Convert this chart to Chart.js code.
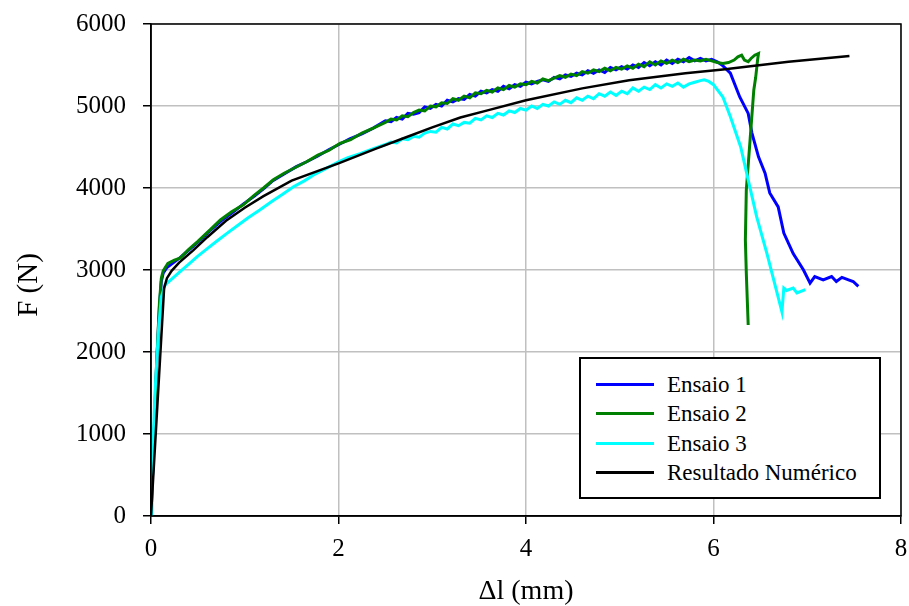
<!DOCTYPE html>
<html lang="pt">
<head>
<meta charset="UTF-8">
<title>F x Δl - Ensaios e Resultado Numérico</title>
<script src="https://cdn.jsdelivr.net/npm/chart.js"></script>
<style>
body {
margin: 0;
background: #ffffff;
font-family: 'Liberation Serif', 'Times New Roman', serif;
}
.wrap {
position: relative;
width: 909px;
height: 606px;
}
.legend {
position: absolute;
left: 579px;
top: 357px;
width: 298px;
height: 138px;
border: 2px solid #000;
background: #fff;
}
.legend .row {
position: absolute;
left: 0;
height: 28px;
width: 100%;
}
.legend .swatch {
position: absolute;
left: 15px;
top: 12px;
width: 58px;
height: 3px;
}
.legend .label {
position: absolute;
left: 86px;
top: 0;
line-height: 28px;
font-size: 23px;
color: #000;
white-space: nowrap;
}
</style>
</head>
<body>
<div class="wrap">
<canvas id="chart"></canvas>
<div class="legend" id="legend"></div>
</div>

<script>
// abscissas comuns da zona de plateau (2.5 a 6.04 mm)
const plateauX = [2.5, 2.56, 2.62, 2.68, 2.74, 2.8, 2.86, 2.92, 2.98, 3.04, 3.1, 3.16, 3.22, 3.28, 3.34, 3.4, 3.46, 3.52, 3.58, 3.64, 3.7, 3.76, 3.82, 3.88, 3.94, 4.0, 4.06, 4.12, 4.18, 4.24, 4.3, 4.36, 4.42, 4.48, 4.54, 4.6, 4.66, 4.72, 4.78, 4.84, 4.9, 4.96, 5.02, 5.08, 5.14, 5.2, 5.26, 5.32, 5.38, 5.44, 5.5, 5.56, 5.62, 5.68, 5.74, 5.8, 5.86, 5.92, 5.98, 6.04];

// Ensaio 1 (azul)
const e1X = [0, 0.03, 0.06, 0.09, 0.11, 0.13, 0.17, 0.24, 0.31, 0.4, 0.5, 0.63, 0.75, 0.87, 0.98, 1.1, 1.2, 1.3, 1.42, 1.55, 1.66, 1.78, 1.9, 2.02, 2.12, 2.25, 2.37]
.concat(plateauX, [6.09, 6.18, 6.28, 6.37, 6.41, 6.48, 6.55, 6.6, 6.69, 6.75, 6.85, 6.96, 7.03, 7.08, 7.17, 7.26, 7.31, 7.37, 7.44, 7.49, 7.545]);
const e1Y = [0, 900, 1850, 2550, 2860, 2960, 3030, 3090, 3150, 3240, 3340, 3480, 3600, 3700, 3800, 3900, 3990, 4090, 4170, 4260, 4320, 4390, 4470, 4540, 4600, 4660, 4730,
4820, 4810, 4860, 4840, 4910, 4900, 4920, 4990, 4970, 5020, 5000, 5070, 5050, 5090, 5080, 5140, 5120, 5180, 5160, 5200,
5180, 5240, 5210, 5260, 5240, 5290, 5270, 5300, 5320, 5300, 5350, 5330, 5380, 5360, 5400, 5380, 5430, 5400, 5440, 5410,
5470, 5440, 5480, 5450, 5500, 5470, 5530, 5490, 5540, 5500, 5560, 5520, 5570, 5540, 5590, 5550, 5580, 5550, 5570, 5540,
5500, 5400, 5110, 4910, 4670, 4380, 4180, 3940, 3770, 3450, 3200, 3000, 2840, 2920, 2880, 2920, 2860, 2910, 2880, 2860, 2800];

// Ensaio 2 (verde)
const e2X = [0, 0.03, 0.06, 0.09, 0.11, 0.13, 0.18, 0.25, 0.31, 0.4, 0.5, 0.63, 0.74, 0.86, 0.985, 1.1, 1.2, 1.305, 1.42, 1.54, 1.66, 1.78, 1.9, 2.016, 2.13, 2.25, 2.37]
.concat(plateauX, [6.1, 6.16, 6.22, 6.26, 6.3, 6.33, 6.37, 6.4, 6.44, 6.48, 6.47, 6.45, 6.43, 6.39, 6.35, 6.34, 6.35, 6.37]);
const e2Y = [0, 930, 1860, 2600, 2900, 2990, 3080, 3120, 3145, 3250, 3350, 3490, 3610, 3710, 3795, 3910, 4000, 4100, 4180, 4250, 4320, 4400, 4460, 4545, 4590, 4670, 4730,
4800, 4840, 4830, 4880, 4870, 4920, 4950, 4940, 5000, 4990, 5040, 5030, 5090, 5070, 5120, 5100, 5160, 5150, 5190, 5170,
5220, 5200, 5250, 5230, 5270, 5260, 5300, 5280, 5330, 5310, 5340, 5370, 5350, 5390, 5370, 5420, 5400, 5440, 5420, 5460,
5430, 5470, 5450, 5490, 5460, 5510, 5480, 5540, 5500, 5550, 5520, 5560, 5530, 5570, 5540, 5560, 5550, 5570, 5550, 5530,
5520, 5530, 5560, 5600, 5620, 5560, 5540, 5580, 5620, 5640, 5560, 5350, 5195, 4585, 3976, 3366, 2960, 2330];

// Ensaio 3 (ciano)
const e3X = [0, 0.01, 0.04, 0.08, 0.11, 0.15, 0.22, 0.31, 0.4, 0.49, 0.6, 0.7, 0.81, 0.92, 1.04, 1.16, 1.28, 1.4, 1.52, 1.64, 1.75, 1.87, 2.0, 2.1, 2.23, 2.35]
.concat(plateauX.slice(0, 57), [5.9, 5.95, 6.0, 6.1, 6.18, 6.29, 6.37, 6.46, 6.57, 6.66, 6.73, 6.75, 6.78, 6.85, 6.89, 6.98]);
const e3Y = [0, 440, 1450, 2270, 2670, 2820, 2890, 2980, 3070, 3160, 3260, 3350, 3447, 3540, 3640, 3732, 3830, 3920, 4016, 4090, 4170, 4240, 4320, 4370, 4420, 4470,
4530, 4560, 4550, 4600, 4590, 4630, 4620, 4670, 4690, 4680, 4740, 4720, 4780, 4760, 4800, 4790, 4850, 4830, 4880, 4860,
4910, 4890, 4940, 4920, 4970, 4950, 5000, 4970, 5020, 5000, 5050, 5020, 5070, 5040, 5100, 5070, 5120, 5090, 5150, 5120,
5170, 5130, 5180, 5150, 5220, 5180, 5230, 5200, 5260, 5220, 5270, 5240, 5280, 5230, 5270, 5290, 5310,
5320, 5300, 5260, 5110, 4870, 4500, 4100, 3650, 3200, 2800, 2490, 2780, 2750, 2780, 2720, 2760];

// Resultado Numérico (preto)
const numX = [0, 0.14, 0.17, 0.22, 0.3, 0.45, 0.6, 0.8, 1.0, 1.2, 1.5, 2.0, 2.4, 2.7, 3.0, 3.3, 3.6, 4.0, 4.6, 5.1, 5.7, 6.1, 6.8, 7.45];
const numY = [0, 2780, 2900, 2990, 3090, 3240, 3400, 3600, 3760, 3900, 4090, 4300, 4480, 4610, 4740, 4860, 4950, 5070, 5215, 5315, 5400, 5445, 5540, 5610];

const seriesNames = ['Ensaio 1', 'Ensaio 2', 'Ensaio 3', 'Resultado Numérico'];
const seriesColors = ['#0000ff', '#008000', '#00ffff', '#000000'];
const xTicks = [0, 2, 4, 6, 8];
const yTicks = [0, 1000, 2000, 3000, 4000, 5000, 6000];

const toPoints = (xs, ys) => xs.map((x, i) => ({ x: x, y: ys[i] }));
const allSeries = [toPoints(e1X, e1Y), toPoints(e2X, e2Y), toPoints(e3X, e3Y), toPoints(numX, numY)];

const serif = "'Liberation Serif', 'Times New Roman', serif";

// moldura do gráfico e título do eixo y
const framePlugin = {
id: 'frame',
afterDraw(chart) {
const { ctx, chartArea } = chart;
ctx.save();
ctx.strokeStyle = '#000';
ctx.lineWidth = 1.5;
ctx.strokeRect(chartArea.left, chartArea.top, chartArea.right - chartArea.left, chartArea.bottom - chartArea.top);
ctx.translate(29, 285);
ctx.rotate(-Math.PI / 2);
ctx.font = '29px ' + serif;
ctx.fillStyle = '#000';
ctx.textAlign = 'center';
ctx.textBaseline = 'middle';
ctx.fillText('F (N)', 0, 0);
ctx.restore();
}
};

new Chart(document.getElementById('chart'), {
type: 'line',
data: {
datasets: allSeries.map((pts, i) => ({
label: seriesNames[i],
data: pts,
borderColor: seriesColors[i],
backgroundColor: seriesColors[i],
borderWidth: i === 3 ? 2.5 : 3,
pointRadius: 0,
tension: 0,
fill: false,
order: 3 - i
}))
},
options: {
responsive: true,
maintainAspectRatio: false,
animation: false,
events: [],
layout: { padding: { top: 24, right: 8, left: 0, bottom: 0 } },
plugins: {
legend: { display: false },
tooltip: { enabled: false }
},
scales: {
x: {
type: 'linear',
min: 0,
max: 8,
afterBuildTicks: (s) => { s.ticks = xTicks.map(v => ({ value: v })); },
afterFit: (s) => { s.height = 90; s.paddingLeft = 0; s.paddingRight = 0; },
ticks: {
color: '#000',
padding: 10,
maxRotation: 0,
callback: (v) => String(v),
font: { family: serif, size: 25 }
},
grid: { color: '#c0c0c0', lineWidth: 1.5, tickColor: '#000', tickLength: 8, tickWidth: 1.5 },
border: { color: '#000', width: 1.5 },
title: {
display: true,
text: 'Δl (mm)',
color: '#000',
font: { family: serif, size: 28, lineHeight: 1 },
padding: { top: 0, bottom: 0 }
}
},
y: {
type: 'linear',
min: 0,
max: 6000,
afterBuildTicks: (s) => { s.ticks = yTicks.map(v => ({ value: v })); },
afterFit: (s) => { s.width = 151; s.paddingTop = 0; s.paddingBottom = 0; },
ticks: {
color: '#000',
padding: 17,
callback: (v) => String(v),
font: { family: serif, size: 25 }
},
grid: { color: '#c0c0c0', lineWidth: 1.5, tickColor: '#000', tickLength: 8, tickWidth: 1.5 },
border: { color: '#000', width: 1.5 }
}
}
},
plugins: [framePlugin]
});

// legenda
const legend = document.getElementById('legend');
seriesNames.forEach((name, i) => {
const row = document.createElement('div');
row.className = 'row';
row.style.top = (12 + i * 29.3) + 'px';
const sw = document.createElement('div');
sw.className = 'swatch';
sw.style.background = seriesColors[i];
const lb = document.createElement('div');
lb.className = 'label';
lb.textContent = name;
row.appendChild(sw);
row.appendChild(lb);
legend.appendChild(row);
});
</script>
</body>
</html>
